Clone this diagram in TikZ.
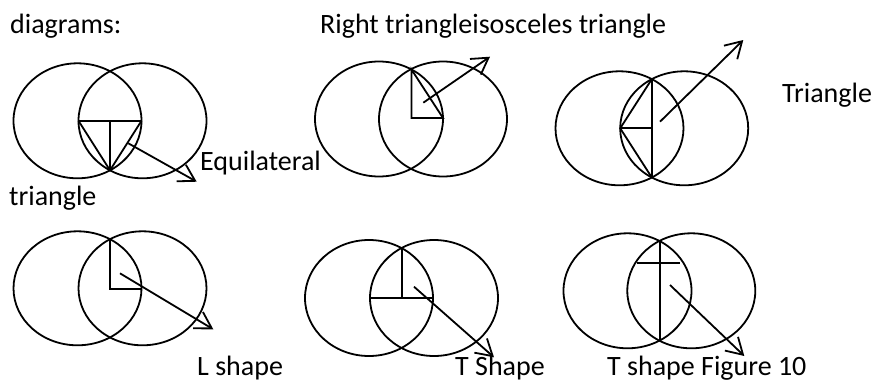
\documentclass[tikz,border=0pt]{standalone}
\usepackage{fontspec}
\setmainfont{Carlito}
\usetikzlibrary{arrows.meta}
\tikzset{
  ring/.style={line width=1.8pt},
  seg/.style={line width=1.8pt},
  pointer/.style={line width=1.8pt,-{Straight Barb[length=16pt,width=19pt,line width=1.8pt]}},
  lbl/.style={inner sep=0pt,anchor=base west,font=\fontsize{28}{34}\selectfont}
}
\begin{document}
\begin{tikzpicture}[x=1pt,y=-1pt]
\useasboundingbox (0,0) rectangle (876,381);
% labels
\node[lbl] (tdiag) at (10,33) {diagrams:};
\node[lbl] (tright) at (320,33) {Right triangleisosceles triangle};
\node[lbl] (ttri) at (782,102) {Triangle};
\node[lbl] (tequi) at (200,170) {Equilateral};
\node[lbl] (ttriangle) at (9,205) {triangle};
\node[lbl] (tL) at (197,375) {L shape};
\node[lbl] (tT) at (455,375) {T Shape};
\node[lbl] (tT2) at (607,375) {T shape Figure 10};

% ---------- Figure 1: equilateral triangle
\draw[ring] (77.5,120.8) ellipse [x radius=64, y radius=57.5];
\draw[ring] (142.5,120.8) ellipse [x radius=64, y radius=57.5];
\coordinate (a1) at (78.5,120.8);
\coordinate (b1) at (141.5,120.8);
\coordinate (m1) at (110,120.8);
\coordinate (c1) at (110,170.3);
\draw[seg] (a1) -- (b1);
\draw[seg] (m1) -- (c1);
\draw[seg] (a1) -- (c1) -- (b1);
\coordinate (s1) at (128.3,143.3);
\coordinate (e1) at (196.7,181.7);
\draw[pointer] (s1) -- (e1);

% ---------- Figure 2: right triangle
\draw[ring] (379,119) ellipse [x radius=64, y radius=57.5];
\draw[ring] (443,119) ellipse [x radius=64, y radius=57.5];
\coordinate (a2) at (411.5,69.5);
\coordinate (m2) at (411.5,118);
\coordinate (b2) at (443,118);
\draw[seg] (a2) -- (m2) -- (b2) -- cycle;
\coordinate (s2) at (423.3,102.7);
\coordinate (e2) at (490,56.7);
\draw[pointer] (s2) -- (e2);

% ---------- Figure 3: triangle
\draw[ring] (619.5,128.3) ellipse [x radius=64, y radius=57];
\draw[ring] (684.2,128.3) ellipse [x radius=64, y radius=57];
\coordinate (a3) at (651.7,79.3);
\coordinate (c3) at (651.7,177.3);
\coordinate (l3) at (620.2,128.3);
\coordinate (m3) at (651.7,128.3);
\draw[seg] (a3) -- (c3);
\draw[seg] (l3) -- (m3);
\draw[seg] (a3) -- (l3) -- (c3);
\coordinate (s3) at (660,121.7);
\coordinate (e3) at (743.3,40);
\draw[pointer] (s3) -- (e3);

% ---------- Figure 4: L shape
\draw[ring] (77.5,288.3) ellipse [x radius=64, y radius=57];
\draw[ring] (142.5,288.3) ellipse [x radius=64, y radius=57];
\coordinate (a4) at (110,239.3);
\coordinate (m4) at (110,289.3);
\coordinate (b4) at (141.5,289.3);
\draw[seg] (a4) -- (m4) -- (b4);
\coordinate (s4) at (120,273.3);
\coordinate (e4) at (213.3,329.3);
\draw[pointer] (s4) -- (e4);

% ---------- Figure 5: T shape
\draw[ring] (369,298) ellipse [x radius=64, y radius=58];
\draw[ring] (434,298) ellipse [x radius=64, y radius=58];
\coordinate (a5) at (402,248.3);
\coordinate (m5) at (402,298.3);
\coordinate (l5) at (370,298.3);
\coordinate (r5) at (433,298.3);
\draw[seg] (a5) -- (m5);
\draw[seg] (l5) -- (r5);
\coordinate (s5) at (414,286.7);
\coordinate (e5) at (494,357.3);
\draw[pointer] (s5) -- (e5);

% ---------- Figure 6: T shape (cross)
\draw[ring] (627.5,290.8) ellipse [x radius=64, y radius=57.5];
\draw[ring] (691.3,290.8) ellipse [x radius=64, y radius=57.5];
\coordinate (a6) at (660,241.7);
\coordinate (c6) at (660,339.8);
\coordinate (l6) at (636.7,263.3);
\coordinate (r6) at (680,263.3);
\draw[seg] (a6) -- (c6);
\draw[seg] (l6) -- (r6);
\coordinate (s6) at (670,285);
\coordinate (e6) at (744.3,356);
\draw[pointer] (s6) -- (e6);
\end{tikzpicture}
\end{document}
